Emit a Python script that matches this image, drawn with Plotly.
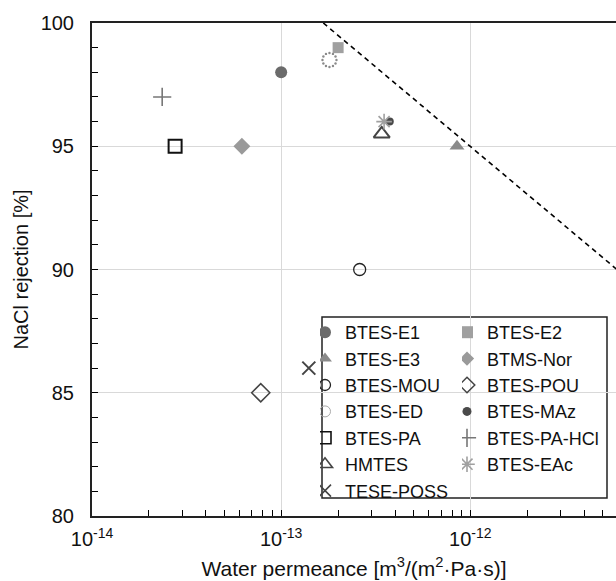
import math
import plotly.graph_objects as go

# ---- data ----
names = ["BTES-E1", "BTES-E2", "BTES-E3", "BTMS-Nor", "BTES-MOU", "BTES-POU",
         "BTES-ED", "BTES-MAz", "BTES-PA", "BTES-PA-HCl", "HMTES", "BTES-EAc", "TESE-POSS"]
permeance = [1.0e-13, 2.0e-13, 8.5e-13, 6.2e-14, 2.6e-13, 7.8e-14,
             1.8e-13, 3.75e-13, 2.75e-14, 2.35e-14, 3.4e-13, 3.5e-13, 1.4e-13]
rejection = [98.0, 99.0, 95.0, 95.0, 90.0, 85.0,
             98.5, 96.0, 95.0, 97.0, 95.5, 96.0, 86.0]
tradeoff_x = [1.67e-13, 1.0e-11]
tradeoff_y = [100.0, 88.55]
x_tickvals = [1e-14, 1e-13, 1e-12]
x_ticktext = ["10<sup>-14</sup>", "10<sup>-13</sup>", "10<sup>-12</sup>"]
y_tickvals = [80, 85, 90, 95, 100]
x_range = [-14, -11.23]
y_range = [80, 100]

# ---- layout geometry ----
W, H = 616, 581
L, R, T, B = 92, 0, 23, 65
pw, ph = W - L - R, H - T - B

def fx(px):
    return (px - L) / pw

def fy(py):
    return (H - B - py) / ph

# ---- styles ----
styles = {
    "BTES-E1": dict(symbol="circle", color="#6b6b6b", size=12, lg=12),
    "BTES-E2": dict(symbol="square", color="#a0a0a0", size=11, lg=12),
    "BTES-E3": dict(symbol="triangle-up", color="#8a8a8a", size=13, lg=12),
    "BTMS-Nor": dict(symbol="diamond", color="#9a9a9a", size=13, lg=11),
    "BTES-MOU": dict(symbol="circle-open", color="#222222", size=12, lw=1.3, lg=11),
    "BTES-POU": dict(symbol="diamond-open", color="#444444", size=14, lw=1.5, lg=12),
    "BTES-ED": dict(symbol="circle-open", color="#8a8a8a", size=15, lw=1.0, lg=11),
    "BTES-MAz": dict(symbol="circle", color="#4a4a4a", size=8, lg=9),
    "BTES-PA": dict(symbol="square-open", color="#111111", size=13, lw=2, lg=12),
    "BTES-PA-HCl": dict(symbol="cross-thin-open", color="#777777", size=13, lw=1.6, lg=13),
    "HMTES": dict(symbol="triangle-up-open", color="#444444", size=14, lw=2, lg=13),
    "BTES-EAc": dict(symbol="asterisk-open", color="#a0a0a0", size=13, lw=1.6, lg=13),
    "TESE-POSS": dict(symbol="x-thin-open", color="#444444", size=13, lw=2, lg=12),
}
col1 = ["BTES-E1", "BTES-E3", "BTES-MOU", "BTES-ED", "BTES-PA", "HMTES", "TESE-POSS"]

fig = go.Figure()
fig.add_trace(go.Scatter(x=tradeoff_x, y=tradeoff_y, mode="lines",
                         line=dict(color="black", width=1.6, dash="5px,4px"),
                         showlegend=False, hoverinfo="skip"))

px_per_decade = pw / (x_range[1] - x_range[0])
px_per_unit = ph / (y_range[1] - y_range[0])

for n, px, ry in zip(names, permeance, rejection):
    s = styles[n]
    if n == "BTES-ED":
        # dotted ring drawn as small dots around the data point
        rad, nd = 7.0, 12
        rx = [px * 10 ** (rad * math.cos(2 * math.pi * k / nd) / px_per_decade) for k in range(nd)]
        ryy = [ry + rad * math.sin(2 * math.pi * k / nd) / px_per_unit for k in range(nd)]
        fig.add_trace(go.Scatter(x=rx, y=ryy, mode="markers", showlegend=False,
                                 marker=dict(symbol="circle", size=2.4, color="#8a8a8a"),
                                 hoverinfo="skip"))
    else:
        marker = dict(symbol=s["symbol"], size=s["size"], color=s["color"])
        if "open" in s["symbol"]:
            marker["line"] = dict(color=s["color"], width=s.get("lw", 1.5))
        fig.add_trace(go.Scatter(x=[px], y=[ry], mode="markers", name=n, marker=marker,
                                 showlegend=False))

# legend entries (legend-only traces with small symbols)
for n in names:
    s = styles[n]
    marker = dict(symbol=s["symbol"], size=s["lg"], color=s["color"])
    if "open" in s["symbol"]:
        marker["line"] = dict(color=s["color"], width=min(s.get("lw", 1.5), 1.6))
    if n == "BTES-ED":
        marker = dict(symbol="circle-open", size=s["lg"], color="#aaaaaa",
                      line=dict(color="#aaaaaa", width=1))
    fig.add_trace(go.Scatter(x=[None], y=[None], mode="markers", name=n, marker=marker,
                             legend="legend" if n in col1 else "legend2"))

legfont = dict(family="Arial, Liberation Sans, sans-serif", size=18, color="#111111")
fig.update_layout(
    width=W, height=H,
    margin=dict(l=L, r=R, t=T, b=B),
    plot_bgcolor="white", paper_bgcolor="white",
    font=dict(family="Arial, Liberation Sans, sans-serif", size=18, color="#111111"),
    legend=dict(x=fx(320), y=fy(314), xanchor="left", yanchor="top",
                bgcolor="rgba(0,0,0,0)", borderwidth=0, font=legfont,
                itemsizing="trace", tracegroupgap=0, indentation=-15),
    legend2=dict(x=fx(462), y=fy(314), xanchor="left", yanchor="top",
                 bgcolor="rgba(0,0,0,0)", borderwidth=0, font=legfont,
                 itemsizing="trace", tracegroupgap=0, indentation=-15),
    shapes=[dict(type="rect", xref="paper", yref="paper",
                 x0=fx(322), x1=fx(607), y0=fy(498), y1=fy(317),
                 line=dict(color="#222222", width=1.5), fillcolor="white", layer="below")],
)

minor_x = [m * 10.0 ** e for e in (-14, -13, -12) for m in range(2, 10)]
fig.update_xaxes(
    type="log", range=x_range,
    tickvals=x_tickvals, ticktext=x_ticktext,
    ticks="inside", ticklen=6, tickcolor="black", tickwidth=1,
    showgrid=True, gridcolor="#d9d9d9", gridwidth=1,
    showline=True, linecolor="#222222", linewidth=2, mirror=True,
    minor=dict(tickmode="array", tickvals=minor_x, ticks="inside", ticklen=6,
               tickcolor="black", showgrid=False),
    title=dict(text="Water permeance [m<sup>3</sup>/(m<sup>2</sup>·Pa·s)]", standoff=12,
               font=dict(size=21)),
    ticklabelstandoff=4, tickfont=dict(size=20), zeroline=False,
)
fig.update_yaxes(
    range=y_range, tickvals=y_tickvals,
    ticks="inside", ticklen=6, tickcolor="black", tickwidth=1,
    showgrid=True, gridcolor="#d9d9d9", gridwidth=1,
    showline=True, linecolor="#222222", linewidth=2,
    minor=dict(dtick=1, ticks="inside", ticklen=6, tickcolor="black", showgrid=False),
    title=dict(text="NaCl rejection [%]", standoff=7, font=dict(size=20)),
    ticklabelstandoff=12, tickfont=dict(size=20), zeroline=False,
)

fig.write_html("out.html")
